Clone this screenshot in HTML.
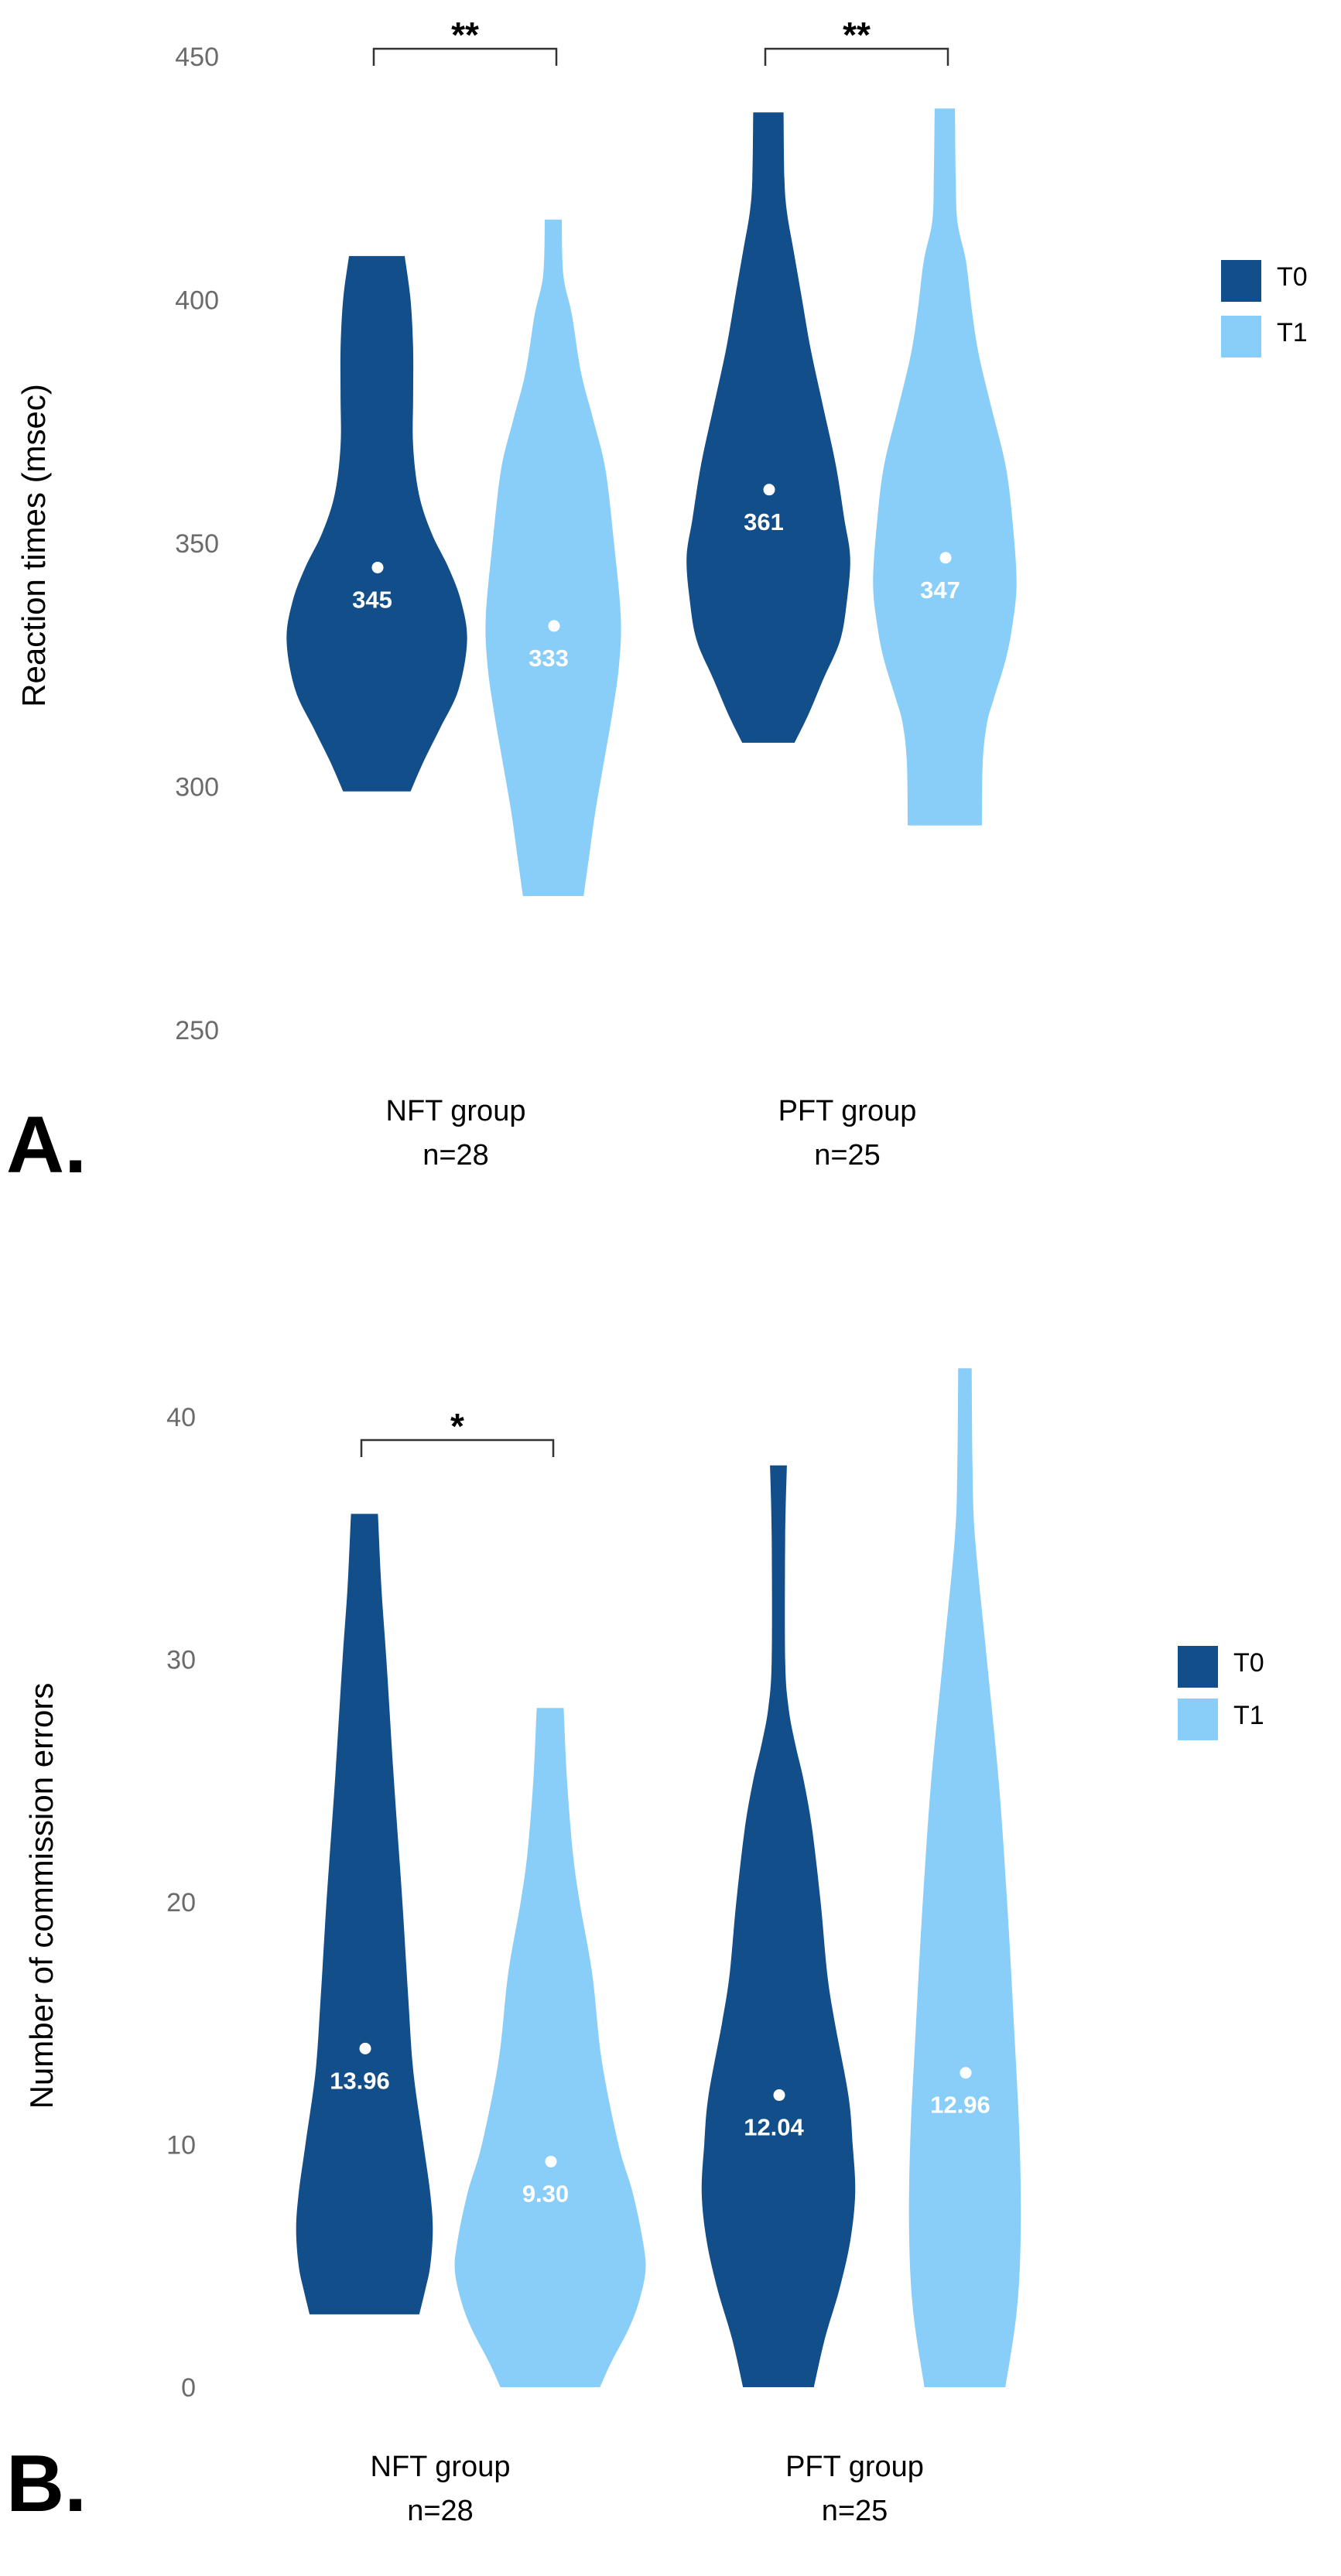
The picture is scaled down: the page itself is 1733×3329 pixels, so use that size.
<!DOCTYPE html>
<html><head><meta charset="utf-8">
<style>
html,body{margin:0;padding:0;background:#fff;}
svg{display:block;}
text{font-family:"Liberation Sans","DejaVu Sans",sans-serif;}
</style></head>
<body>
<svg id="chart" width="1733" height="3329" viewBox="0 0 1733 3329" xmlns="http://www.w3.org/2000/svg"></svg>
<script>
// ---------- Panel A data ----------
const groupsA = ["NFT group", "PFT group"];
const groupNA = ["n=28", "n=25"];
const meansA = [345, 333, 361, 347];
const meanLabelsA = ["345", "333", "361", "347"];
const ticksA = [250, 300, 350, 400, 450];
const violinA_NFT_T0 = [[409,33],[400,40],[390,43],[380,43],[370,43],[360,50],[352,65],[345,85],[338,100],[330,107],[320,97],[312,75],[305,55],[299,40]];
const violinA_NFT_T1 = [[416.5,10],[405,12],[397,22],[385,33],[375,48],[365,62],[350,72],[335,80],[325,78],[315,70],[305,60],[295,50],[285,42],[277.5,36]];
const violinA_PFT_T0 = [[438.5,18],[425,19],[418,22],[410,30],[400,40],[390,50],[378,65],[366,80],[355,90],[347,97],[338,93],[330,85],[322,65],[315,48],[309,31]];
const violinA_PFT_T1 = [[439.3,12],[425,13],[416,15],[408,25],[398,32],[389,40],[378,55],[366,72],[355,80],[342,85],[333,80],[326,72],[318,58],[313,50],[305,45],[292,44]];
const sigA = ["**", "**"];

// ---------- Panel B data ----------
const groupsB = ["NFT group", "PFT group"];
const groupNB = ["n=28", "n=25"];
const meansB = [13.96, 9.30, 12.04, 12.96];
const meanLabelsB = ["13.96", "9.30", "12.04", "12.96"];
const ticksB = [0, 10, 20, 30, 40];
const violinB_NFT_T0 = [[36,16],[33,20],[30,26],[25,35],[20,45],[16,52],[13,58],[10,70],[8,78],[6.5,81],[5,78],[4,72],[3,65]];
const violinB_NFT_T1 = [[28,16],[25,20],[22,27],[20,35],[17,50],[13.5,61],[10,81],[8,98],[6,110],[4.8,113],[3.5,105],[2.4,93],[1,72],[0,59]];
const violinB_PFT_T0 = [[38,10],[35,8],[30,8],[28,12],[26.5,20],[25,30],[23,40],[20,50],[17,58],[15,67],[12,83],[10,88],[8,91],[6,85],[4,72],[2,55],[0,42]];
const violinB_PFT_T1 = [[42,8],[38,9],[35,12],[30,26],[25,40],[20,50],[15,58],[10,65],[6,66],[3,61],[0,48]];
const sigB = ["*", null];

const series = ["T0", "T1"];
const colors = ["#124E89", "#89CDF9"];
const NS = "http://www.w3.org/2000/svg";
const svg = document.getElementById("chart");

function mk(tag, attrs, parent, txt){
  const e = document.createElementNS(NS, tag);
  for (const k in attrs) e.setAttribute(k, attrs[k]);
  if (txt !== undefined) e.textContent = txt;
  (parent || svg).appendChild(e);
  return e;
}

function smoothSide(pts){
  // Catmull-Rom to cubic bezier, pts array of [x,y]
  let d = "";
  for (let i = 0; i < pts.length - 1; i++){
    const p0 = pts[Math.max(i-1,0)], p1 = pts[i], p2 = pts[i+1], p3 = pts[Math.min(i+2,pts.length-1)];
    const c1 = [p1[0] + (p2[0]-p0[0])/6, p1[1] + (p2[1]-p0[1])/6];
    const c2 = [p2[0] - (p3[0]-p1[0])/6, p2[1] - (p3[1]-p1[1])/6];
    d += ` C${c1[0].toFixed(1)},${c1[1].toFixed(1)} ${c2[0].toFixed(1)},${c2[1].toFixed(1)} ${p2[0].toFixed(1)},${p2[1].toFixed(1)}`;
  }
  return d;
}

function violinPath(profile, cx, yf, wScale){
  const right = profile.map(p => [cx + p[1]*wScale, yf(p[0])]);
  const left = profile.slice().reverse().map(p => [cx - p[1]*wScale, yf(p[0])]);
  let d = `M${left[left.length-1][0].toFixed(1)},${right[0][1].toFixed(1)} L${right[0][0].toFixed(1)},${right[0][1].toFixed(1)}`;
  d += smoothSide(right);
  d += ` L${left[0][0].toFixed(1)},${left[0][1].toFixed(1)}`;
  d += smoothSide(left);
  d += " Z";
  return d;
}

function drawPanel(cfg){
  const g = mk("g", {});
  
  
  // y ticks
  cfg.ticks.forEach(t => {
    const tx = mk("text", {x: cfg.tickX, y: cfg.y(t) + 12, "text-anchor": "end", "font-size": 34, fill: "#6b6b6b"}, g, String(t));
    
    
  });
  // y title
  const yt = mk("text", {x: 0, y: 0, "text-anchor": "middle", "font-size": 42, fill: "#000",
    transform: `translate(${cfg.titleX},${cfg.titleY}) rotate(-90)`}, g, cfg.yTitle);
  
  
  // violins
  cfg.violins.forEach((prof, i) => {
    const gi = Math.floor(i/2), si = i % 2;
    const cx = cfg.x(gi, si);
    const p = mk("path", {d: violinPath(prof, cx, cfg.y, 1.09), fill: colors[si]}, g);
    
    
    const my = cfg.y(cfg.means[i]);
    const dot = mk("circle", {cx: cx + 1, cy: my, r: 7.5, fill: "#fff"}, g);
    
    
    const lb = mk("text", {x: cx - 6, y: my + 52, "text-anchor": "middle", "font-size": 31, "font-weight": "bold", fill: "#fff"}, g, cfg.meanLabels[i]);
    
    
  });
  // significance brackets
  cfg.sig.forEach((s, gi) => {
    if (!s) return;
    const x0 = cfg.x(gi, 0), x1 = cfg.x(gi, 1);
    const br = mk("path", {d: `M${x0-4},${cfg.brY+22} L${x0-4},${cfg.brY} L${x1+4},${cfg.brY} L${x1+4},${cfg.brY+22}`, fill: "none", stroke: "#333", "stroke-width": 2.5}, g);
    
    
    const st = mk("text", {x: (x0+x1)/2, y: cfg.brY - 2, "text-anchor": "middle", "font-size": 46, "font-weight": "bold", fill: "#000"}, g, s);
    
    
  });
  // x labels
  cfg.groups.forEach((gname, gi) => {
    const cx = (cfg.x(gi,0) + cfg.x(gi,1))/2 + cfg.labelShift;
    const l1 = mk("text", {x: cx, y: cfg.xlY, "text-anchor": "middle", "font-size": 38, fill: "#000"}, g, gname);
    
    
    const l2 = mk("text", {x: cx, y: cfg.xlY + 57, "text-anchor": "middle", "font-size": 38, fill: "#000"}, g, cfg.ns[gi]);
    
    
  });
  // legend
  series.forEach((s, si) => {
    const r = mk("rect", {x: cfg.legX, y: cfg.legY + si*cfg.legStep, width: 52, height: 54, fill: colors[si]}, g);
    
    
    const t = mk("text", {x: cfg.legX + 72, y: cfg.legY + si*cfg.legStep + 33, "font-size": 34, fill: "#000"}, g, s);
    
    
  });
  // panel letter
  const pl = mk("text", {x: 8, y: cfg.letterY, "font-size": 104, "font-weight": "bold", fill: "#000"}, g, cfg.letter);
  
  
}

drawPanel({
  name: "panel-a-reaction-times",
  ticks: ticksA, y: v => 73 + (450 - v) * 6.29, tickX: 283,
  x: (gi, si) => [[487, 715], [993, 1221]][gi][si],
  yTitle: "Reaction times (msec)", titleX: 58, titleY: 705,
  violins: [violinA_NFT_T0, violinA_NFT_T1, violinA_PFT_T0, violinA_PFT_T1],
  means: meansA, meanLabels: meanLabelsA, groups: groupsA, ns: groupNA,
  sig: sigA, brY: 63, xlY: 1448, labelShift: -12,
  legX: 1578, legY: 336, legStep: 72, letterY: 1515, letter: "A."
});

drawPanel({
  name: "panel-b-commission-errors",
  ticks: ticksB, y: v => 3085 - v * 31.35, tickX: 253,
  x: (gi, si) => [[471, 711], [1006, 1247]][gi][si],
  yTitle: "Number of commission errors", titleX: 68, titleY: 2450,
  violins: [violinB_NFT_T0, violinB_NFT_T1, violinB_PFT_T0, violinB_PFT_T1],
  means: meansB, meanLabels: meanLabelsB, groups: groupsB, ns: groupNB,
  sig: sigB, brY: 1861, xlY: 3200, labelShift: -22,
  legX: 1522, legY: 2127, legStep: 68, letterY: 3245, letter: "B."
});
</script>
</body></html>
